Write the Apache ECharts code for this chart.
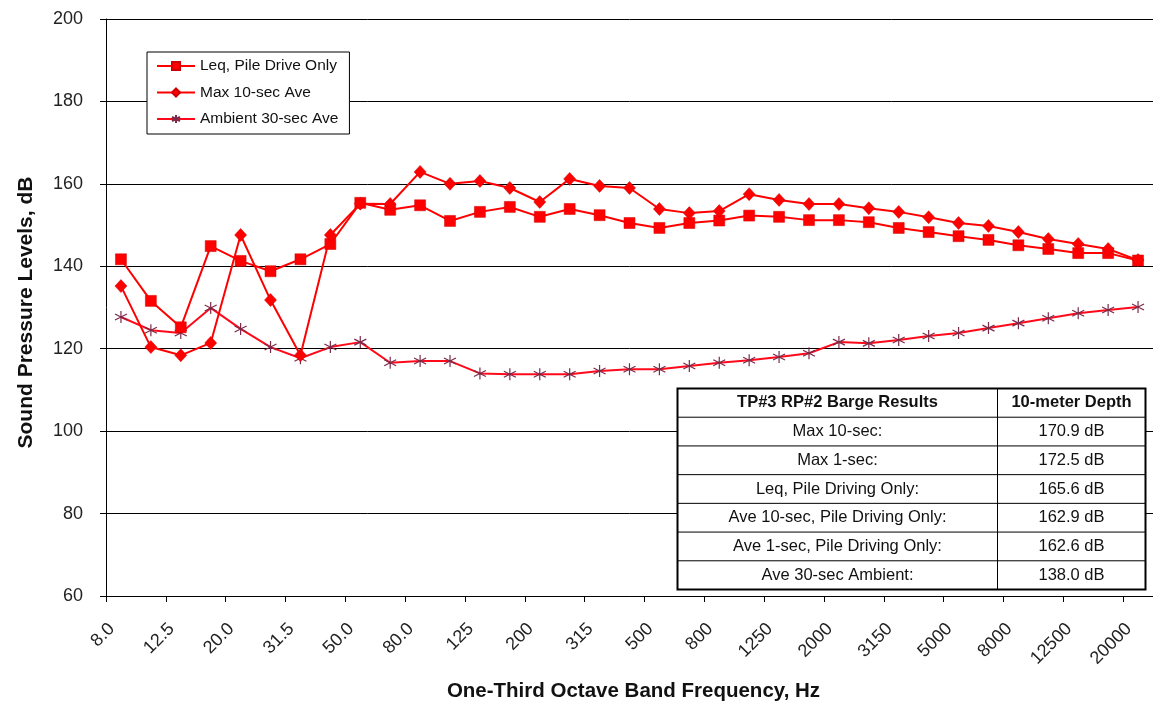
<!DOCTYPE html>
<html>
<head>
<meta charset="utf-8">
<script src="https://cdn.jsdelivr.net/npm/echarts@6/dist/echarts.min.js"></script>
<style>
html,body{margin:0;padding:0;background:#fff;}
#chart{width:1153px;height:707px;}
</style>
</head>
<body>
<div id="chart"></div>
<script>
const categories = ['8.0','10.0','12.5','16.0','20.0','25.0','31.5','40.0','50.0','63.0','80.0','100','125','160','200','250','315','400','500','630','800','1000','1250','1600','2000','2500','3150','4000','5000','6300','8000','10000','12500','16000','20000'];
const leqPileDrive = [141.7,131.6,125.2,144.9,141.3,138.8,141.7,145.4,155.4,153.7,154.8,151.0,153.2,154.4,152.0,153.9,152.4,150.5,149.3,150.5,151.1,152.3,152.0,151.2,151.2,150.7,149.3,148.3,147.3,146.4,145.1,144.2,143.2,143.2,141.4];
const max10secAve = [135.2,120.4,118.4,121.4,147.6,131.8,118.4,147.6,155.2,155.1,162.9,160.0,160.7,159.0,155.6,161.2,159.5,159.0,153.9,152.9,153.4,157.5,156.1,155.1,155.1,154.1,153.2,151.9,150.5,149.8,148.3,146.6,145.4,144.2,141.5];
const ambient30secAve = [127.7,124.5,123.8,129.9,124.8,120.4,117.7,120.4,121.6,116.6,117.0,117.0,114.0,113.8,113.8,113.8,114.6,115.0,115.0,115.8,116.6,117.2,118.0,118.9,121.6,121.3,122.1,123.1,123.8,125.0,126.2,127.4,128.6,129.4,130.1];
const seriesNames = ['Leq, Pile Drive Only','Max 10-sec Ave','Ambient 30-sec Ave'];
const yTicks = {min:60, max:200, interval:20};
const tableHeader = ['TP#3 RP#2 Barge Results','10-meter Depth'];
const tableLabels = ['Max 10-sec:','Max 1-sec:','Leq, Pile Driving Only:','Ave 10-sec, Pile Driving Only:','Ave 1-sec, Pile Driving Only:','Ave 30-sec Ambient:'];
const tableValues = ['170.9 dB','172.5 dB','165.6 dB','162.9 dB','162.6 dB','138.0 dB'];

const FONT = 'Arial, "Liberation Sans", sans-serif';
const chart = echarts.init(document.getElementById('chart'), null, {renderer:'canvas'});

// table graphic
const tX = 675, tY = 386, tW = 468, tH = 201, c1 = 320;
const rows = [tableHeader].concat(tableLabels.map((l,i)=>[l, tableValues[i]]));
const rH = tH / rows.length;
const tableEls = [];
tableEls.push({type:'rect', z:100, shape:{x:0,y:0,width:tW,height:tH}, style:{fill:'#fff', stroke:'#000', lineWidth:2}});
for (let i=1;i<rows.length;i++){
  tableEls.push({type:'line', z:101, shape:{x1:0,y1:i*rH,x2:tW,y2:i*rH}, style:{stroke:'#000', lineWidth:1}});
}
tableEls.push({type:'line', z:101, shape:{x1:c1,y1:0,x2:c1,y2:tH}, style:{stroke:'#000', lineWidth:1}});
rows.forEach((r,i)=>{
  const bold = i===0 ? 'bold' : 'normal';
  tableEls.push({type:'text', z:102, x:c1/2, y:i*rH+rH/2, style:{text:r[0], font: bold+' 16.5px '+FONT, fill:'#111', align:'center', verticalAlign:'middle'}});
  tableEls.push({type:'text', z:102, x:c1+(tW-c1)/2, y:i*rH+rH/2, style:{text:r[1], font: bold+' 16.5px '+FONT, fill:'#111', align:'center', verticalAlign:'middle'}});
});

const asterisk = 'path://M5,0L5,10M0.7,2.5L9.3,7.5M0.7,7.5L9.3,2.5';

chart.setOption({
  animation:false,
  backgroundColor:'#fff',
  grid:{left:106, top:19, width:1057, bottom:111, containLabel:false},
  legend:{
    orient:'vertical', left:147, top:52, width:200,
    backgroundColor:'#fff', borderColor:'#000', borderWidth:1,
    padding:[6,11,7,9], itemGap:10.5, itemWidth:38, itemHeight:10,
    textStyle:{fontFamily:FONT, fontSize:15.5, color:'#111'},
    data: seriesNames
  },
  xAxis:{
    type:'category', data:categories, boundaryGap:true,
    name:'One-Third Octave Band Frequency, Hz', nameLocation:'middle', nameGap:85,
    nameTextStyle:{fontFamily:FONT, fontSize:20.5, fontWeight:'bold', color:'#111', padding:[0,0,0,8]},
    axisLine:{lineStyle:{color:'#000', width:1}},
    axisTick:{show:true, interval:1, length:6, lineStyle:{color:'#000'}},
    axisLabel:{interval:1, rotate:45, fontFamily:FONT, fontSize:18, color:'#222', margin:21, padding:[0,13,18,0]},
    splitLine:{show:false}
  },
  yAxis:{
    type:'value', min:yTicks.min, max:yTicks.max, interval:yTicks.interval,
    name:'Sound Pressure Levels, dB', nameLocation:'middle', nameGap:69,
    nameTextStyle:{fontFamily:FONT, fontSize:21, fontWeight:'bold', color:'#111', padding:[0,10,0,0]},
    axisLine:{show:true, lineStyle:{color:'#000', width:1}},
    axisTick:{show:true, length:6, lineStyle:{color:'#000'}},
    axisLabel:{fontFamily:FONT, fontSize:18, color:'#222', margin:23},
    splitLine:{show:true, lineStyle:{color:'#000', width:1}}
  },
  series:[
    {name:seriesNames[0], type:'line', data:leqPileDrive, symbol:'rect', symbolSize:11,
     lineStyle:{color:'#ff0000', width:2}, itemStyle:{color:'#ff0000', borderColor:'#d00000', borderWidth:0.5}, z:3},
    {name:seriesNames[1], type:'line', data:max10secAve, symbol:'diamond', symbolSize:[12,13],
     lineStyle:{color:'#ff0000', width:2}, itemStyle:{color:'#ff0000', borderColor:'#d00000', borderWidth:0.5}, z:4},
    {name:seriesNames[2], type:'line', data:ambient30secAve, symbol:asterisk, symbolSize:12,
     lineStyle:{color:'#ff0a1a', width:2}, itemStyle:{color:'none', borderColor:'#7a2a4a', borderWidth:1.2}, z:2}
  ],
  graphic:[{type:'group', left:tX, top:tY, children:tableEls}]
});
</script>
</body>
</html>
